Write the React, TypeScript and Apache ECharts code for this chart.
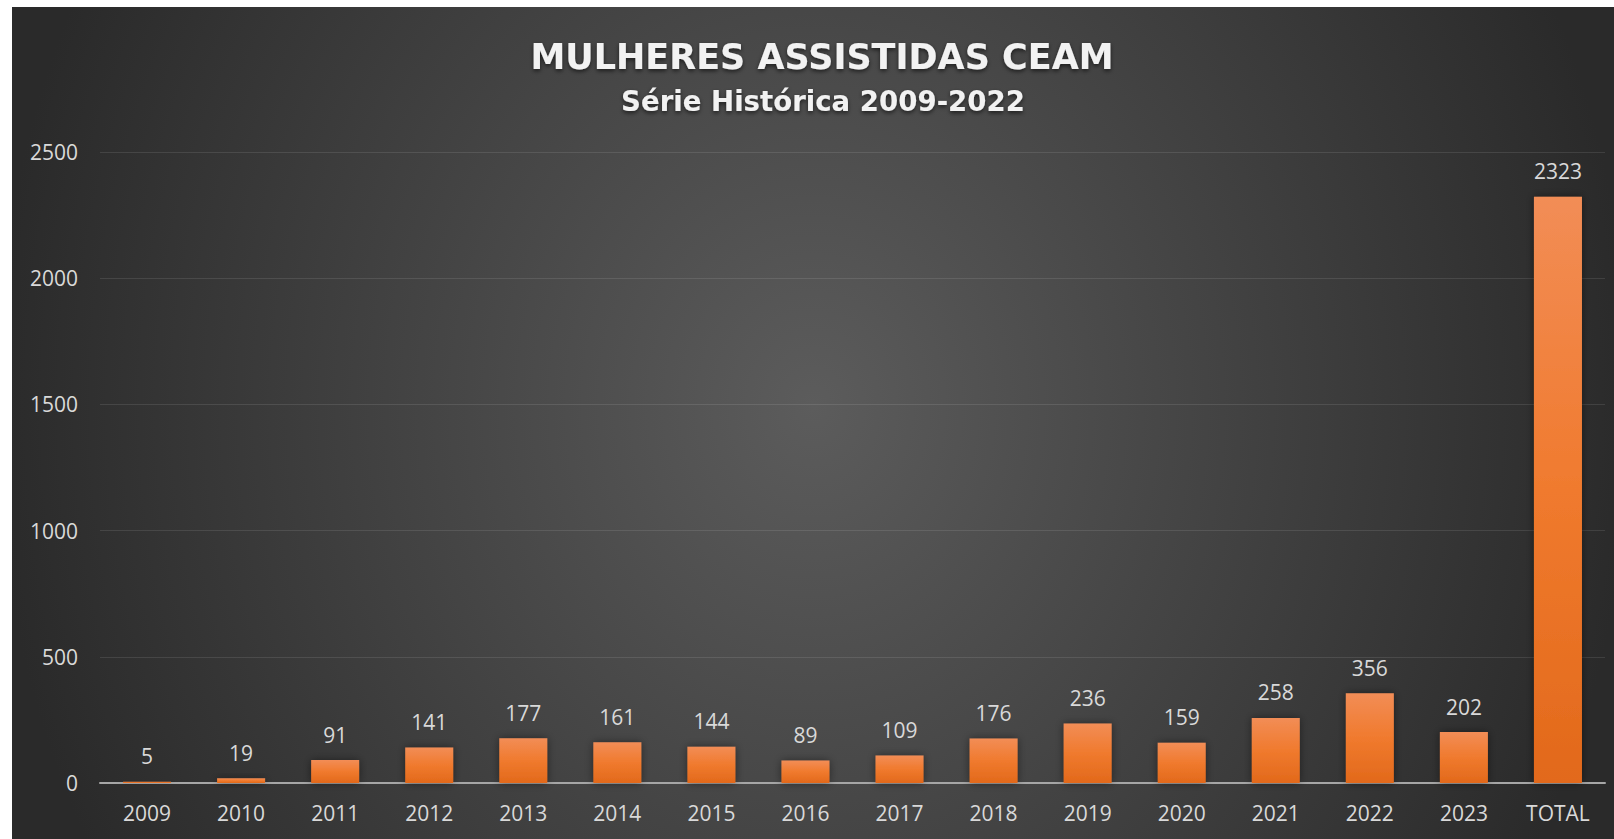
import React, { useEffect, useRef } from "react";
import * as echarts from "echarts";

const categories = ["2009", "2010", "2011", "2012", "2013", "2014", "2015", "2016", "2017", "2018", "2019", "2020", "2021", "2022", "2023", "TOTAL"];
const values = [5, 19, 91, 141, 177, 161, 144, 89, 109, 176, 236, 159, 258, 356, 202, 2323];
const titleText = "MULHERES ASSISTIDAS CEAM";
const subtitleText = "Série Histórica 2009-2022";

export default function App() {
  const ref = useRef<HTMLDivElement>(null);
  useEffect(() => {
    if (!ref.current) return;
    const chart = echarts.init(ref.current, null, { renderer: "svg" });
    const labelColor = "#d9d9d9";
    const font = "'Open Sans', sans-serif";
    chart.setOption({
      animation: false,
      backgroundColor: "transparent",
      title: [
        {
          text: titleText,
          left: 805,
          top: 27,
          textAlign: "center",
          textStyle: {
            color: "#f2f2f2",
            fontFamily: "'DejaVu Sans', sans-serif",
            fontWeight: "bold",
            fontSize: 35,
            textShadowColor: "rgba(0,0,0,0.6)",
            textShadowBlur: 4,
            textShadowOffsetY: 2,
          },
        },
        {
          text: subtitleText,
          left: 806,
          top: 75,
          textAlign: "center",
          textStyle: {
            color: "#f2f2f2",
            fontFamily: "'DejaVu Sans', sans-serif",
            fontWeight: "bold",
            fontSize: 27.6,
            textShadowColor: "rgba(0,0,0,0.6)",
            textShadowBlur: 4,
            textShadowOffsetY: 2,
          },
        },
      ],
      grid: { left: 88, right: 9, top: 145, bottom: 56, containLabel: false },
      xAxis: {
        type: "category",
        data: categories,
        axisLine: { lineStyle: { color: "#a6a6a6", width: 2 } },
        axisTick: { show: false },
        axisLabel: { color: labelColor, fontFamily: font, fontSize: 21, margin: 19 },
      },
      yAxis: {
        type: "value",
        min: 0,
        max: 2500,
        interval: 500,
        axisLine: { show: false },
        axisTick: { show: false },
        splitLine: { lineStyle: { color: "rgba(255,255,255,0.1)", width: 1 } },
        axisLabel: {
          color: labelColor,
          fontFamily: font,
          fontSize: 21,
          margin: 22,
          formatter: (v: number) => String(v),
        },
      },
      series: [
        {
          type: "bar",
          data: values,
          barWidth: 48,
          itemStyle: {
            color: new echarts.graphic.LinearGradient(0, 0, 0, 1, [
              { offset: 0, color: "#F28D56" },
              { offset: 0.5, color: "#F07A2E" },
              { offset: 1, color: "#E2691B" },
            ]),
            shadowColor: "rgba(0,0,0,0.45)",
            shadowBlur: 8,
          },
          label: {
            show: true,
            position: "top",
            distance: 15,
            color: labelColor,
            fontFamily: font,
            fontSize: 21,
          },
        },
      ],
    });
    return () => chart.dispose();
  }, []);
  return (
    <div
      style={{
        position: "absolute",
        left: 12,
        top: 7,
        width: 1602,
        height: 832,
        background: "radial-gradient(ellipse 820px 940px at 50% 48%, #5c5c5c 0%, #2a2a2a 100%)",
      }}
    >
      <div ref={ref} style={{ width: 1602, height: 832 }} />
    </div>
  );
}
